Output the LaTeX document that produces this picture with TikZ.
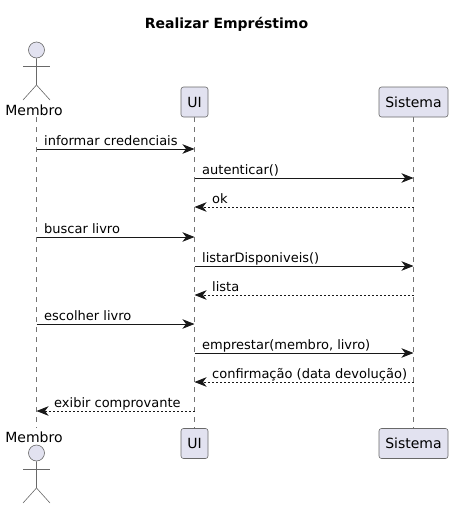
\documentclass[tikz,border=0pt]{standalone}
\usepackage{fontspec}
\setmainfont{DejaVu Sans}
\usetikzlibrary{arrows.meta}
\definecolor{partfill}{HTML}{E2E2F0}
\definecolor{partline}{HTML}{181818}
\begin{document}
\begin{tikzpicture}[
  x=1pt, y=-1pt,
  font=\fontsize{14}{16}\selectfont,
  part/.style={draw=partline!65, line width=0.6pt, rounded corners=2.5pt, fill=partfill,
               minimum height=30pt, inner sep=0pt, align=center},
  head/.style={draw=partline!65, line width=0.6pt, circle, fill=partfill,
               minimum size=16pt, inner sep=0pt},
  limb/.style={draw=partline!65, line width=0.6pt},
  lifeline/.style={draw=partline!60, line width=0.5pt, dash pattern=on 5pt off 5pt},
  call/.style={draw=partline, line width=0.9pt, -{Stealth[length=12pt, width=9.5pt, inset=3.5pt]}},
  reply/.style={call, dash pattern=on 2pt off 2pt},
  msg/.style={font=\fontsize{13}{15}\selectfont, anchor=base west, inner sep=0pt}
]
  \useasboundingbox (0,0) rectangle (453,509);

  \node[font=\bfseries\fontsize{14}{16}\selectfont, inner sep=0pt] (title) at (226.5,24) {Realizar Empréstimo};

  \coordinate (membroTop) at (36.5,117);
  \coordinate (membroBot) at (36.5,428);
  \coordinate (uiTop) at (194.5,117);
  \coordinate (uiBot) at (194.5,428);
  \coordinate (sistemaTop) at (413.5,117);
  \coordinate (sistemaBot) at (413.5,428);
  \draw[lifeline] (membroTop) -- (membroBot);
  \draw[lifeline] (uiTop) -- (uiBot);
  \draw[lifeline] (sistemaTop) -- (sistemaBot);

  \node[head] (headA) at (36.5,50) {};
  \node[inner sep=0pt, fill=white] (membroA) at (34,110) {Membro};
  \draw[limb] (headA.south) -- (36.5,85) -- (23,100);
  \draw[limb] (36.5,85) -- (50,100);
  \draw[limb] (23,66) -- (50,66);

  \node[part, minimum width=27pt] (uiA) at (194.5,102) {UI};
  \node[part, minimum width=69pt] (sistemaA) at (413.5,102) {Sistema};

  \node[inner sep=0pt, fill=white] (membroB) at (34,437) {Membro};
  \node[head] (headB) at (36.5,453) {};
  \draw[limb] (headB.south) -- (36.5,488) -- (23,503);
  \draw[limb] (36.5,488) -- (50,503);
  \draw[limb] (23,469) -- (50,469);

  \node[part, minimum width=27pt] (uiB) at (194.5,443.5) {UI};
  \node[part, minimum width=69pt] (sistemaB) at (413.5,443.5) {Sistema};

  \draw[call] (membroTop |- 0,149) -- (uiTop |- 0,149);
  \node[msg] (msgA) at (44,145) {informar credenciais};
  \draw[call] (uiTop |- 0,178) -- (sistemaTop |- 0,178);
  \node[msg] (msgB) at (202,174) {autenticar()};
  \draw[reply] (sistemaTop |- 0,207) -- (uiTop |- 0,207);
  \node[msg] (msgC) at (212,203) {ok};
  \draw[call] (membroTop |- 0,237) -- (uiTop |- 0,237);
  \node[msg] (msgD) at (44,233) {buscar livro};
  \draw[call] (uiTop |- 0,266) -- (sistemaTop |- 0,266);
  \node[msg] (msgE) at (202,262) {listarDisponiveis()};
  \draw[reply] (sistemaTop |- 0,295) -- (uiTop |- 0,295);
  \node[msg] (msgF) at (212,291) {lista};
  \draw[call] (membroTop |- 0,324) -- (uiTop |- 0,324);
  \node[msg] (msgG) at (44,320) {escolher livro};
  \draw[call] (uiTop |- 0,353) -- (sistemaTop |- 0,353);
  \node[msg] (msgH) at (202,349) {emprestar(membro, livro)};
  \draw[reply] (sistemaTop |- 0,382) -- (uiTop |- 0,382);
  \node[msg] (msgI) at (212,378) {confirmação (data devolução)};
  \draw[reply] (uiTop |- 0,411) -- (membroTop |- 0,411);
  \node[msg] (msgJ) at (54,407) {exibir comprovante};
\end{tikzpicture}
\end{document}
